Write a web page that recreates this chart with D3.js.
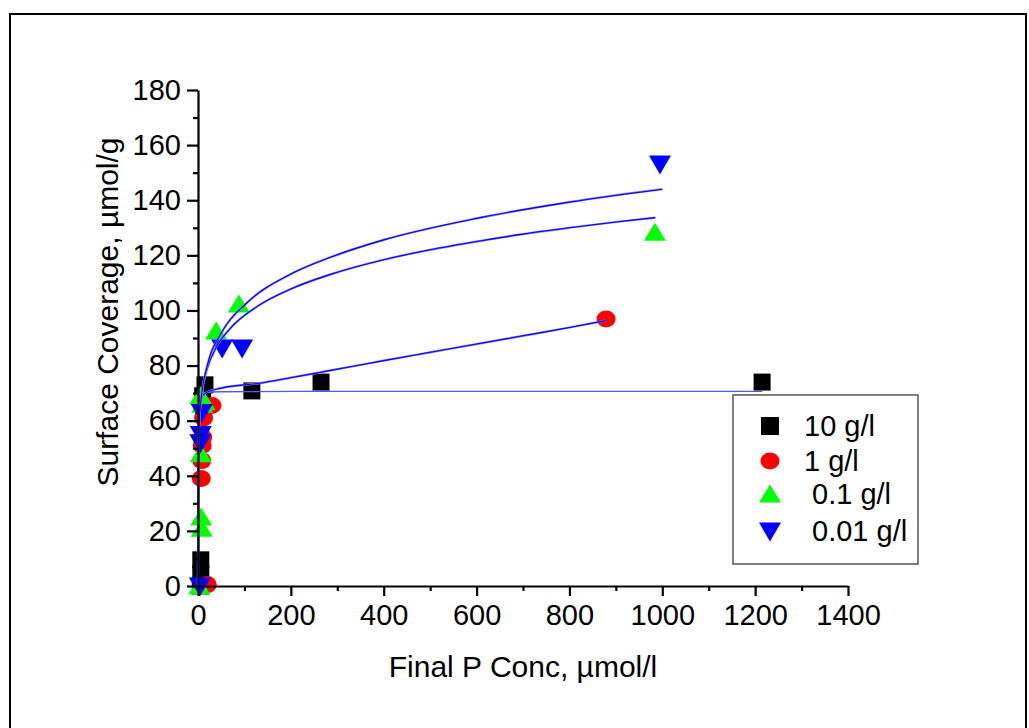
<!DOCTYPE html>
<html><head><meta charset="utf-8">
<script src="https://cdn.jsdelivr.net/npm/d3@7"></script>
<style>
html,body{margin:0;padding:0;background:#fff;}
svg{display:block;font-family:"Liberation Sans",Arial,sans-serif;}
</style></head>
<body><svg id="chart" width="1029" height="728"></svg>
<script>
// ---- data ----
const xTicks = [0, 200, 400, 600, 800, 1000, 1200, 1400];
const yTicks = [0, 20, 40, 60, 80, 100, 120, 140, 160, 180];
const seriesNames = ["10 g/l", "1 g/l", " 0.1 g/l", " 0.01 g/l"];

const pts10g  = [[5,0],[6,4.5],[6,9.5],[12,64],[10,69],[15,73],[116,70.8],[265,74],[1215,74]];
const pts1g   = [[20,0.5],[7,39],[8,45.5],[9,51],[10,54],[12,61],[30,65.5],[879,96.9]];
const pts01g  = [[3,0],[8,21],[7,25],[6,48],[9,66],[14,67],[5,69],[39,92.5],[88,102.3],[984,128.4]];
const pts001g = [[4,0],[5,52],[6,55],[8,63],[52,86.4],[95,86.4],[995,153.1]];

// fitted curves
const fit10g  = [[0,0],[0.3,30],[1,55],[2,64],[5,68.5],[15,70.2],[50,70.5],[200,70.6],[1215,70.6]];
const fit1g   = [[0,0],[1,45],[3,62],[8,68.5],[20,70.4],[50,71.8],[133,73.6],[200,75.6],[265,77.6],[349,80.2],[400,81.8],[500,84.8],[600,87.8],[700,90.8],[800,93.8],[878,96.3]];
const fit01g  = [[0,0],[0.5,48],[1,52.7],[2,57.9],[5,65.5],[10,71.9],[20,79],[40,86.8],[69,93.4],[127,101.4],[200,107.8],[284,113],[400,118.4],[500,122],[600,125],[700,127.7],[800,130],[900,132.1],[985,133.7]];
const fit001g = [[0,0],[0.5,46],[1,51.1],[2,56.7],[5,65],[10,72.2],[20,80],[54,92.9],[105,102.7],[200,113.2],[284,119.2],[400,125.6],[600,133.4],[800,139.3],[1000,144]];

// ---- layout ----
const svg = d3.select("#chart");
const X0 = 198, X1 = 848, Y0 = 586, Y1 = 90;
const x = d3.scaleLinear().domain([0, 1400]).range([X0, X1]);
const y = d3.scaleLinear().domain([0, 180]).range([Y0, Y1]);
const FONT = 29, TFONT = 30;

// outer frame
svg.append("path").attr("d", "M10,740 L10,14 L1026,14 L1026,740")
  .attr("fill", "none").attr("stroke", "#000").attr("stroke-width", 2);

const line = d3.line().x(d => x(d[0])).y(d => y(d[1])).curve(d3.curveMonotoneX);

// markers
const gM = svg.append("g");
function square(g, cx, cy, s, col){ g.append("rect").attr("x", cx - s/2).attr("y", cy - s/2).attr("width", s).attr("height", s).attr("fill", col); }
function circle(g, cx, cy, col){ g.append("ellipse").attr("cx", cx).attr("cy", cy).attr("rx", 9.5).attr("ry", 8.5).attr("fill", col); }
function triUp(g, cx, cy, col){ g.append("path").attr("d", `M${cx-11},${cy+8.5} L${cx+11},${cy+8.5} L${cx},${cy-9.5} Z`).attr("fill", col); }
function triDown(g, cx, cy, col){ g.append("path").attr("d", `M${cx-11},${cy-8.5} L${cx+11},${cy-8.5} L${cx},${cy+10.5} Z`).attr("fill", col); }

pts10g.forEach(d => square(gM, x(d[0]), y(d[1]), 17, "#000"));
pts1g.forEach(d => circle(gM, x(d[0]), y(d[1]), "#ff0000"));
pts01g.forEach(d => triUp(gM, x(d[0]), y(d[1]), "#00ff00"));
pts001g.forEach(d => triDown(gM, x(d[0]), y(d[1]), "#0000ff"));

// fit lines
const gL = svg.append("g").attr("fill", "none");
gL.append("path").datum(fit10g).attr("d", line).attr("stroke", "#5555ff").attr("stroke-width", 1.3);
[fit1g, fit01g, fit001g].forEach(f => {
  gL.append("path").datum(f).attr("d", line).attr("stroke", "#8080ff").attr("stroke-width", 2.2);
  gL.append("path").datum(f).attr("d", line).attr("stroke", "#0000ee").attr("stroke-width", 1.1);
});

// axes
const minorX = d3.range(100, 1400, 200);
const minorY = d3.range(10, 180, 20);
const ax = svg.append("g").attr("transform", `translate(0,${Y0})`)
  .call(d3.axisBottom(x).tickValues(xTicks).tickSize(10).tickSizeOuter(0).tickPadding(8).tickFormat(d3.format("d")));
const ay = svg.append("g").attr("transform", `translate(${X0},0)`)
  .call(d3.axisLeft(y).tickValues(yTicks).tickSize(11).tickSizeOuter(0).tickPadding(6).tickFormat(d3.format("d")));
svg.append("g").attr("transform", `translate(0,${Y0})`)
  .call(d3.axisBottom(x).tickValues(minorX).tickSize(5).tickSizeOuter(0).tickFormat(""))
  .select(".domain").remove();
svg.append("g").attr("transform", `translate(${X0},0)`)
  .call(d3.axisLeft(y).tickValues(minorY).tickSize(5).tickSizeOuter(0).tickFormat(""))
  .select(".domain").remove();
svg.selectAll(".domain, .tick line").attr("stroke", "#000").attr("stroke-width", 2.2);
svg.selectAll(".tick text").attr("font-size", FONT).attr("fill", "#000").attr("font-family", "'Liberation Sans',Arial,sans-serif");
ax.selectAll(".tick text").attr("dy", "0.71em");

// axis titles
svg.append("text").attr("x", (X0 + X1) / 2).attr("y", 677).attr("text-anchor", "middle")
  .attr("font-size", TFONT).text("Final P Conc, µmol/l");
svg.append("text").attr("transform", `translate(118,${(Y0 + Y1) / 2 - 26}) rotate(-90)`)
  .attr("text-anchor", "middle").attr("font-size", TFONT).text("Surface Coverage, µmol/g");

// legend
const lg = svg.append("g");
lg.append("rect").attr("x", 733).attr("y", 395).attr("width", 185).attr("height", 169)
  .attr("fill", "#fff").attr("stroke", "#555").attr("stroke-width", 1.5);
const rowsY = [426, 461, 494, 531];
square(lg, 770, rowsY[0], 18, "#000");
circle(lg, 770, rowsY[1], "#ff0000");
triUp(lg, 770, rowsY[2], "#00ff00");
triDown(lg, 770, rowsY[3], "#0000ff");
seriesNames.forEach((n, i) => {
  lg.append("text").attr("x", 804).attr("y", rowsY[i] + 10).attr("font-size", FONT)
    .attr("xml:space", "preserve").style("white-space", "pre").text(n);
});
</script></body></html>
